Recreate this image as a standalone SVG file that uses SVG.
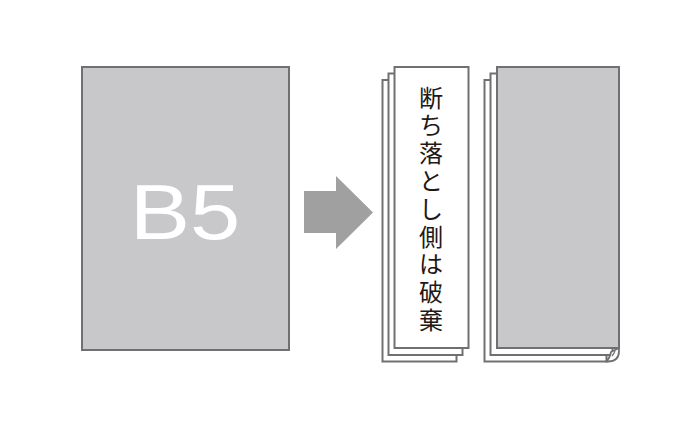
<svg xmlns="http://www.w3.org/2000/svg" width="700" height="438" viewBox="0 0 700 438">
<style>
.sheet{fill:#ffffff;stroke:#707070;stroke-width:2}
.gray{fill:#c8c8ca;stroke:#707070;stroke-width:2}
.jp{font-family:"Liberation Sans","Noto Sans CJK JP","Noto Sans CJK SC",sans-serif;font-size:24px;fill:#231815;text-anchor:middle}
.b5{font-family:"Liberation Sans",Arial,sans-serif;font-size:78px;fill:#ffffff;text-anchor:middle}
</style>
<rect width="700" height="438" fill="#ffffff"/>
<g id="b5-sheet">
<rect class="gray" x="82" y="67" width="207" height="283"/>
<text class="b5" transform="translate(185,239) scale(1.16,1)" x="0" y="0">B5</text>
</g>
<g id="connectors">
<polygon points="304,191 336,191 336,176 373,212.5 336,249 336,233 304,233" fill="#a0a0a0"/>
</g>
<g id="strip-stack" lang="ja">
<rect class="sheet" x="382.5" y="80" width="74" height="281.5"/>
<rect class="sheet" x="388.5" y="73.5" width="74" height="281.5"/>
<rect class="sheet" x="394.5" y="67" width="74" height="281"/>
<text class="jp" x="431" y="106.6">断</text>
<text class="jp" x="431" y="134.4">ち</text>
<text class="jp" x="431" y="162.2">落</text>
<text class="jp" x="431" y="190">と</text>
<text class="jp" x="431" y="217.8">し</text>
<text class="jp" x="431" y="245.6">側</text>
<text class="jp" x="431" y="273.4">は</text>
<text class="jp" x="431" y="301.2">破</text>
<text class="jp" x="431" y="329">棄</text>
</g>
<g id="trimmed-stack">
<rect class="sheet" x="484.5" y="80" width="122" height="281.5"/>
<rect class="sheet" x="490.5" y="73.5" width="122" height="281.5"/>
<rect class="gray" x="497" y="67" width="122" height="281"/>
<path d="M619,348 L619,351 Q619,361.5 608,361.5 L606,361.5 Q610,358 611,352 L619,348 Z" fill="#ffffff" stroke="#707070" stroke-width="1.8" stroke-linejoin="round"/>
<path d="M612,356 Q614,354 615,351" fill="none" stroke="#707070" stroke-width="1.2"/>
</g>
</svg>
